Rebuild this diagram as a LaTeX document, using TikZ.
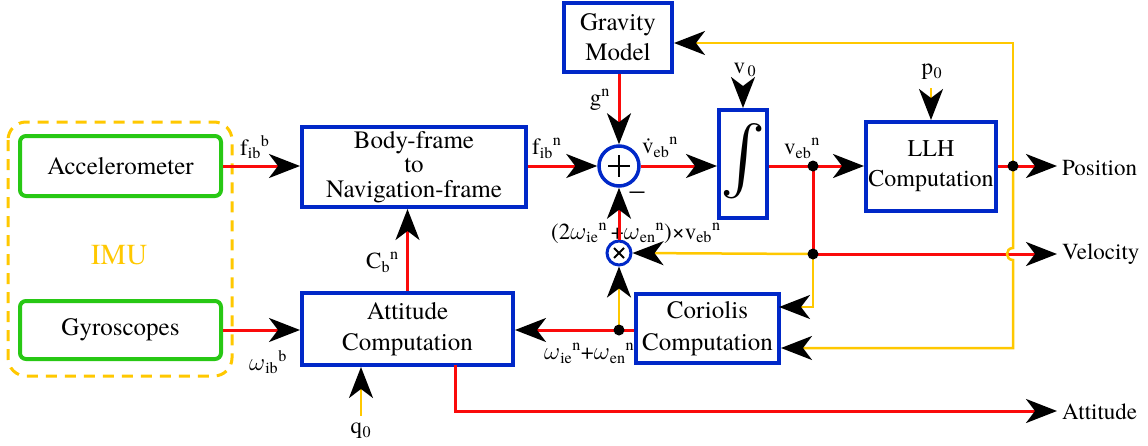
\documentclass[tikz,border=0pt]{standalone}
\usepackage{fontspec}
\IfFontExistsTF{TeX Gyre Termes}{\setmainfont{TeX Gyre Termes}}{\setmainfont{Liberation Serif}}
\usepackage{graphicx}
\usetikzlibrary{arrows.meta,calc}
\definecolor{cred}{RGB}{250,10,10}
\definecolor{cgold}{RGB}{255,200,0}
\definecolor{cblue}{RGB}{0,40,200}
\definecolor{cgreen}{RGB}{40,200,20}
\newcommand{\om}{$\omega$}
\tikzset{
  box/.style={draw=cblue,line width=4pt,fill=white,inner sep=0pt,align=center,font=\fontsize{25}{31}\selectfont},
  sensor/.style={draw=cgreen,line width=4pt,rounded corners=6pt,inner sep=0pt,align=center,font=\fontsize{25}{30}\selectfont},
  lbl/.style={inner sep=0pt,font=\fontsize{23}{26}\selectfont},
  redline/.style={draw=cred,line width=3pt},
  yelline/.style={draw=cgold,line width=2.5pt},
  arr/.style={-{Stealth[length=31pt,width=24pt,inset=9pt,black]}},
  jdot/.style={circle,fill=black,inner sep=0pt,minimum size=11pt},
  sumc/.style={circle,draw=cblue,line width=3.5pt,fill=white,inner sep=0pt},
}
\begin{document}
\begin{tikzpicture}[x=1pt,y=-1pt]
\useasboundingbox (0,0) rectangle (1148,445);

% IMU
\draw[cgold,line width=3pt,dash pattern=on 11pt off 8pt,rounded corners=18pt] (8,122) rectangle (232,376);
\node[sensor,minimum width=201pt,minimum height=60pt] (acc) at (120.5,166) {Accelerometer};
\node[sensor,minimum width=201pt,minimum height=58pt] (gyro) at (120.5,330) {Gyroscopes};
\node[inner sep=0pt,text=cgold,font=\fontsize{29}{30}\selectfont] (imu) at (119,255) {IMU};

% blocks
\node[box,minimum width=224pt,minimum height=80pt,font=\fontsize{25}{24.5}\selectfont] (body) at (414,167) {Body-frame\\to\\Navigation-frame};
\node[box,minimum width=211pt,minimum height=72pt] (att) at (407.5,329) {Attitude\\Computation};
\node[box,minimum width=108pt,minimum height=69pt,font=\fontsize{25}{30}\selectfont] (grav) at (618,37.5) {Gravity\\Model};
\node[box,minimum width=48pt,minimum height=108pt] (int) at (743,164) {\resizebox{!}{80pt}{$\int$}};
\node[box,minimum width=130pt,minimum height=89pt,font=\fontsize{24}{30}\selectfont] (llh) at (931,166.5) {LLH\\Computation};
\node[box,minimum width=143pt,minimum height=69pt,font=\fontsize{25}{32}\selectfont] (cor) at (707.5,328.5) {Coriolis\\Computation};

% label behind the feedback line
\node[lbl,anchor=west] (lmul) at (551,233) {(2\om\textsubscript{ie}\textsuperscript{n}\,+\om\textsubscript{en}\textsuperscript{n})×v\textsubscript{eb}\textsuperscript{n}};

% summation and cross
\node[sumc,minimum size=40pt] (sum) at (619,166) {};
\draw[line width=2.5pt] ($(sum)+(-11,0)$) -- ($(sum)+(11,0)$) ($(sum)+(0,-11)$) -- ($(sum)+(0,11)$);
\node[sumc,minimum size=24pt,line width=3pt] (mul) at (619,253) {};
\draw[line width=2pt] ($(mul)+(-5,-5)$) -- ($(mul)+(5,5)$) ($(mul)+(-5,5)$) -- ($(mul)+(5,-5)$);

% junction coordinates
\coordinate (d1) at (813,166);
\coordinate (d2) at (813,254);
\coordinate (d3) at (619,330);
\coordinate (d4) at (1013,166);
\coordinate (opos) at (1057,166);
\coordinate (ovel) at (1057,254);
\coordinate (oatt) at (1057,411);

% red connectors
\draw[redline,arr] (acc.east) -- (acc.east -| body.west);
\draw[redline,arr] (gyro.east) -- (gyro.east -| att.west);
\draw[redline,arr] (att.north) -- (att.north |- body.south);
\draw[redline,arr] (grav.south -| sum.north) -- (sum.north);
\draw[redline,arr] (body.east |- sum) -- (sum.west);
\draw[redline,arr] (sum.east) -- (sum.east -| int.west);
\draw[redline,arr] (int.east |- d1) -- (d1 -| llh.west);
\draw[redline,arr] (llh.east |- d4) -- (opos);
\draw[redline] (d1) -- (d2);
\draw[redline,arr] (d2) -- (ovel);
\draw[redline,arr] (cor.west |- d3) -- (d3 -| att.east);
\draw[redline,arr] (mul.north) -- (sum.south);
\draw[redline,arr] (455,365) -- (455,411) -- (oatt);

% yellow connectors
\draw[yelline,arr] (d2) -- (mul.east);
\draw[yelline,arr] (d2) -- (813,307) -- (779,307);
\draw[yelline,arr] (d3) -- (mul.south);
\draw[yelline,arr] (d4) -- (1013,43) -- (grav.east |- 0,43);
\draw[yelline,arr] (d4) -- (1013,248) .. controls (1005,248) and (1005,260) .. (1013,260) -- (1013,348) -- (cor.east |- 0,348);
\node[lbl] (q0) at (361,431) {q\kern0.5pt\textsubscript{0}};
\draw[yelline,arr] (361,416) -- (att.south -| 361,0);
\node[lbl] (v0) at (745,70) {v\kern2.5pt\textsubscript{0}};
\draw[yelline,arr] (743,88) -- (int.north);
\node[lbl] (p0) at (932,72) {p\kern0.5pt\textsubscript{0}};
\draw[yelline,arr] (931,88) -- (llh.north);

% dots
\node[jdot] at (d1) {};
\node[jdot] at (d2) {};
\node[jdot] at (d3) {};
\node[jdot] at (d4) {};

% other labels
\node[lbl,anchor=west] (lfb) at (240,147) {f\textsubscript{ib}\textsuperscript{b}};
\node[lbl,anchor=west] (lwb) at (249,362) {\om\textsubscript{ib}\textsuperscript{b}};
\node[lbl,anchor=west] (lcb) at (366,262) {C\textsubscript{b}\textsuperscript{n}};
\node[lbl,anchor=west] (lfn) at (532,148) {f\textsubscript{ib}\textsuperscript{n}};
\node[lbl] (lg) at (600,100) {g\textsuperscript{n}};
\node[lbl,anchor=west] (lvd) at (642,147) {\.{v}\textsubscript{eb}\textsuperscript{n}};
\node[lbl,anchor=west] (lv) at (784,148) {v\textsubscript{eb}\textsuperscript{n}};
\node[lbl,font=\fontsize{30}{30}\selectfont] (lminus) at (637,196) {–};
\node[lbl,anchor=west] (lw) at (544,353) {\om\textsubscript{ie}\textsuperscript{n}+\om\textsubscript{en}\textsuperscript{n}};
\node[lbl,anchor=west] (lpos) at (1062,168) {Position};
\node[lbl,anchor=west] (lvel) at (1062,254) {Velocity};
\node[lbl,anchor=west] (latt) at (1062,412) {Attitude};
\end{tikzpicture}
\end{document}
